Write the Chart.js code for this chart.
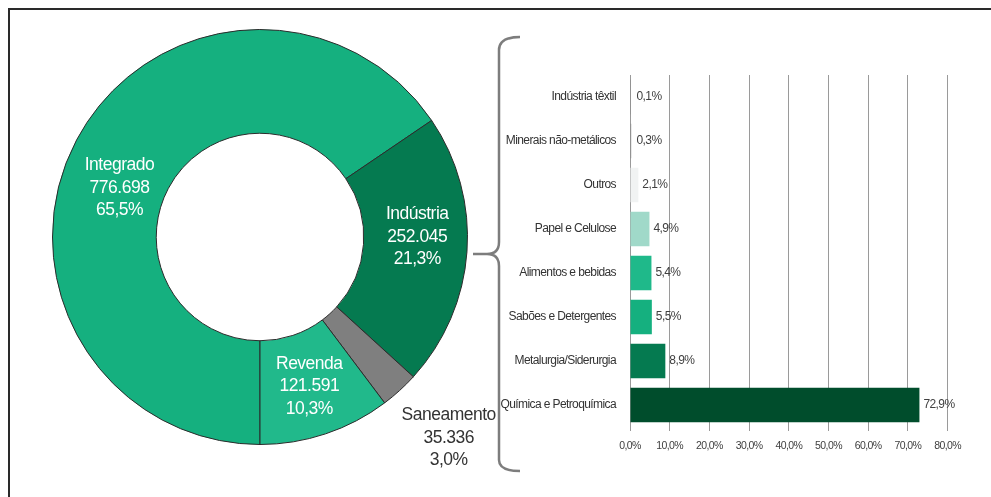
<!DOCTYPE html>
<html lang="pt-BR">
<head>
<meta charset="utf-8">
<script src="https://cdn.jsdelivr.net/npm/chart.js@4/dist/chart.umd.min.js"></script>
<style>
    html, body { margin: 0; padding: 0; background: #fff; }
    #wrap { position: relative; width: 991px; height: 497px; overflow: hidden; }
    #frame { position: absolute; left: 8px; top: 8px; width: 1000px; height: 500px;
             border-top: 2px solid #2a2a2a; border-left: 2px solid #2a2a2a; }
    #pieBox { position: absolute; left: 0; top: 0; width: 510px; height: 497px; }
    #barBox { position: absolute; left: 490px; top: 75px; width: 480px; height: 382px; }
    #brace { position: absolute; left: 0; top: 0; }
</style>
</head>
<body>
<div id="wrap">
    <div id="frame"></div>
    <div id="pieBox"><canvas id="segChart"></canvas></div>
    <svg id="brace" width="991" height="497">
        <path d="M520 37 Q499 37 499 50 L499 242 Q499 254 487 254 L473 254 M487 254 Q499 254 499 266 L499 460 Q499 471 520 471"
              fill="none" stroke="#7d7d7d" stroke-width="2.5"/>
    </svg>
    <div id="barBox"><canvas id="indChart"></canvas></div>
</div>
<script>
// consumo por segmento
const segLabels = ['Integrado', 'Indústria', 'Saneamento', 'Revenda'];
const segValues = [776698, 252045, 35336, 121591];
const segColors = ['#15b07f', '#057a50', '#7f7f7f', '#21b98b'];

// participação dentro da indústria (%)
const indLabels = ['Indústria têxtil', 'Minerais não-metálicos', 'Outros', 'Papel e Celulose',
    'Alimentos e bebidas', 'Sabões e Detergentes', 'Metalurgia/Siderurgia', 'Química e Petroquímica'];
const indValues = [0.1, 0.3, 2.1, 4.9, 5.4, 5.5, 8.9, 72.9];
const indColors = ['#8a8a8a', '#8a8a8a', '#f1f3f3', '#a0d9c9', '#1fb98a', '#15b07f', '#057a50', '#004d2c'];

const xTicks = [0, 10, 20, 30, 40, 50, 60, 70, 80];

const sans = '"Liberation Sans", Arial, sans-serif';
const fmtPct = (v) => `${v.toFixed(1).replace('.', ',')}%`;
const fmtNum = (v) => v.toLocaleString('pt-BR');

// tighter tracking so the plain sans reads like a narrow face
const tightText = (spacing) => ({
    id: 'tightText',
    beforeLayout(chart) { chart.ctx.letterSpacing = spacing; },
    beforeDraw(chart) { chart.ctx.letterSpacing = spacing; }
});

// nudge for each slice label, from the slice centroid
const segNudge = [[-3, 24], [2, -11], [84, 86], [0, 2]];
const segOutside = [false, false, true, false];

const segLabelPlugin = {
    id: 'segLabels',
    afterDatasetsDraw(chart) {
        const { ctx } = chart;
        const meta = chart.getDatasetMeta(0);
        const total = segValues.reduce((s, v) => s + v, 0);
        ctx.save();
        ctx.letterSpacing = '-0.5px';
        ctx.font = `17.5px ${sans}`;
        ctx.textAlign = 'center';
        ctx.textBaseline = 'middle';
        meta.data.forEach((arc, i) => {
            const p = arc.tooltipPosition();
            const x = p.x + segNudge[i][0];
            const y = p.y + segNudge[i][1];
            const lines = [segLabels[i], fmtNum(segValues[i]), fmtPct(segValues[i] / total * 100)];
            ctx.fillStyle = segOutside[i] ? '#333' : '#fff';
            lines.forEach((t, k) => ctx.fillText(t, x, y + (k - 1) * 22.5));
        });
        ctx.restore();
    }
};

const barValuePlugin = {
    id: 'barValues',
    afterDatasetsDraw(chart) {
        const { ctx } = chart;
        const meta = chart.getDatasetMeta(0);
        ctx.save();
        ctx.letterSpacing = '-0.6px';
        ctx.font = `12px ${sans}`;
        ctx.fillStyle = '#404040';
        ctx.textAlign = 'left';
        ctx.textBaseline = 'middle';
        meta.data.forEach((bar, i) => {
            ctx.fillText(fmtPct(indValues[i]), Math.max(bar.x, bar.base + 2) + 4, bar.y);
        });
        ctx.restore();
    }
};

new Chart(document.getElementById('segChart'), {
    type: 'doughnut',
    data: {
        labels: segLabels,
        datasets: [{
            data: segValues,
            backgroundColor: segColors,
            borderColor: '#2b2b2b',
            borderWidth: 1
        }]
    },
    options: {
        responsive: true,
        maintainAspectRatio: false,
        animation: false,
        rotation: 180,
        cutout: '50%',
        layout: { padding: { left: 52, top: 29, right: 42, bottom: 52 } },
        plugins: { legend: { display: false }, tooltip: { enabled: false } }
    },
    plugins: [segLabelPlugin]
});

new Chart(document.getElementById('indChart'), {
    type: 'bar',
    data: {
        labels: indLabels,
        datasets: [{
            data: indValues,
            backgroundColor: indColors,
            barPercentage: 0.8,
            categoryPercentage: 0.98,
            minBarLength: 1
        }]
    },
    options: {
        indexAxis: 'y',
        responsive: true,
        maintainAspectRatio: false,
        animation: false,
        layout: { padding: { top: 0, right: 22, bottom: 0, left: 0 } },
        plugins: { legend: { display: false }, tooltip: { enabled: false } },
        scales: {
            x: {
                min: 0,
                max: 80,
                afterBuildTicks: (scale) => { scale.ticks = xTicks.map(v => ({ value: v })); },
                afterFit: (scale) => { scale.height = 30; },
                grid: { color: '#9a9a9a', lineWidth: 1, tickLength: 4, drawOnChartArea: true },
                border: { display: false },
                ticks: {
                    padding: 9,
                    color: '#404040',
                    font: { family: sans, size: 10.5 },
                    callback: (v) => fmtPct(v)
                }
            },
            y: {
                afterFit: (scale) => {
                    scale.width = 140;
                    scale.paddingTop = 0;
                    scale.paddingBottom = 0;
                },
                grid: { display: false },
                border: { display: false },
                ticks: {
                    padding: 6,
                    color: '#333',
                    font: { family: sans, size: 12 }
                }
            }
        }
    },
    plugins: [barValuePlugin, tightText('-0.6px')]
});
</script>
</body>
</html>
